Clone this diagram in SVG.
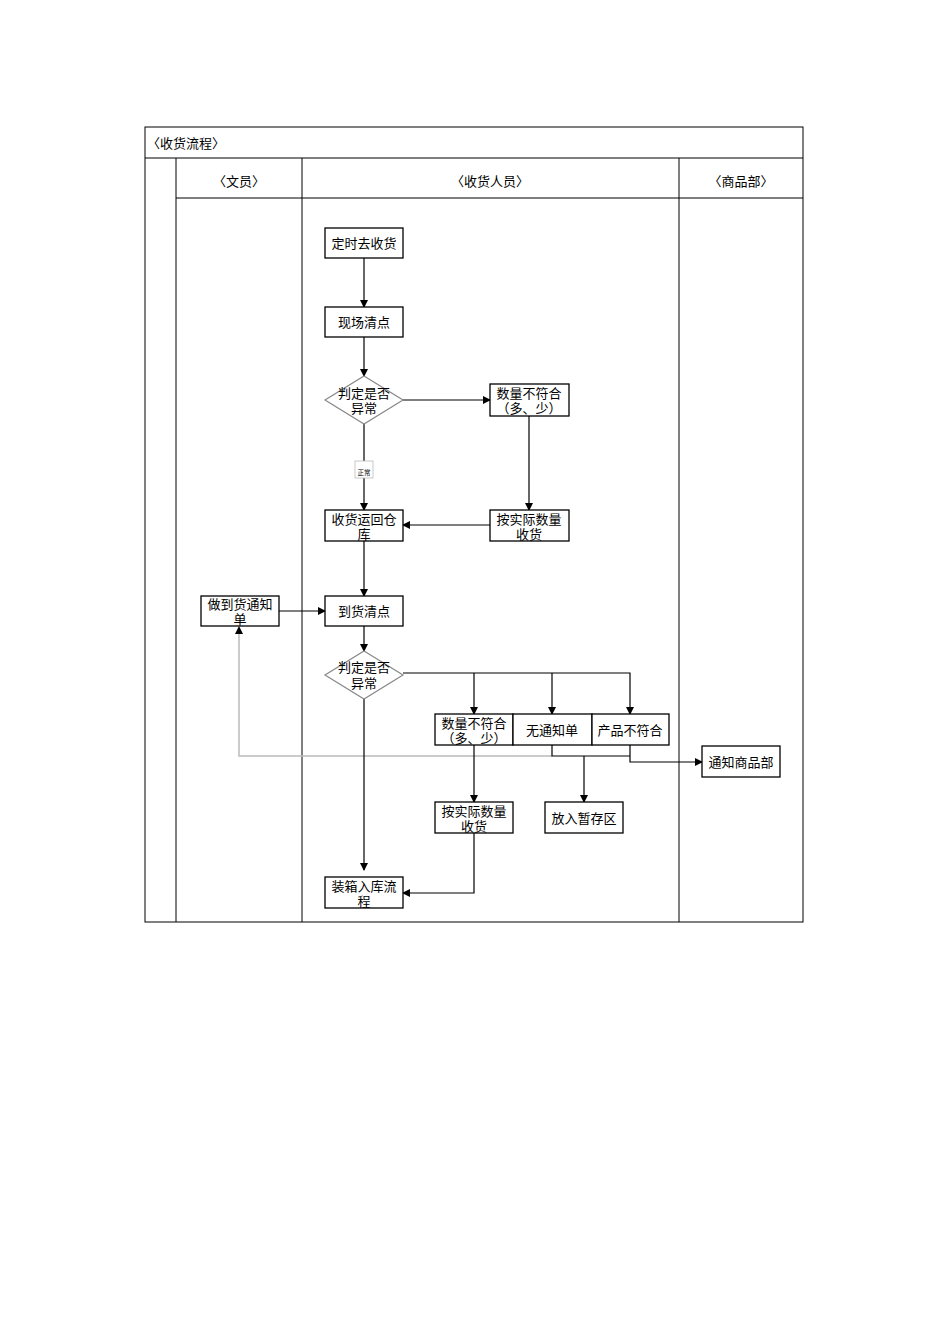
<svg xmlns="http://www.w3.org/2000/svg" width="950" height="1344" viewBox="0 0 950 1344">
<defs>
<marker id="a" markerWidth="8" markerHeight="8" refX="7" refY="4" orient="auto" markerUnits="userSpaceOnUse"><path d="M0,0 L8,4 L0,8 z" fill="#000"/></marker>
<style>
text{font-family:"Liberation Serif","Noto Sans CJK SC",serif;font-size:13px;text-anchor:middle;fill:#000}
.b{fill:#fff;stroke:#000;stroke-width:1.3}
.d{fill:#fff;stroke:#888;stroke-width:1.2}
.l{fill:none;stroke:#000;stroke-width:1.2}
.g{fill:none;stroke:#bbb;stroke-width:1.5}
.t{fill:none;stroke:#000;stroke-width:1}
</style>
</defs>
<rect width="950" height="1344" fill="#fff"/>
<g id="table">
<rect x="145" y="127" width="658" height="795" class="t"/>
<line x1="145" y1="158" x2="803" y2="158" class="t"/>
<line x1="176" y1="198" x2="803" y2="198" class="t"/>
<line x1="176" y1="158" x2="176" y2="922" class="t"/>
<line x1="302" y1="158" x2="302" y2="922" class="t"/>
<line x1="679" y1="158" x2="679" y2="922" class="t"/>
<text x="186" y="148" font-size="15">〈收货流程〉</text>
<text x="239" y="186">〈文员〉</text>
<text x="490" y="186">〈收货人员〉</text>
<text x="741" y="186">〈商品部〉</text>
</g>
<g id="connectors">
<polyline class="g" points="552,756 239,756 239,630"/>
<path d="M239,626 l-4,8 h8 z" fill="#000"/>
<line class="l" x1="364" y1="258" x2="364" y2="307" marker-end="url(#a)"/>
<line class="l" x1="364" y1="337" x2="364" y2="376" marker-end="url(#a)"/>
<line class="l" x1="403" y1="400" x2="490" y2="400" marker-end="url(#a)"/>
<line class="l" x1="364" y1="424" x2="364" y2="510" marker-end="url(#a)"/>
<line class="l" x1="529" y1="416" x2="529" y2="510" marker-end="url(#a)"/>
<line class="l" x1="490" y1="525" x2="403" y2="525" marker-end="url(#a)"/>
<line class="l" x1="364" y1="541" x2="364" y2="596" marker-end="url(#a)"/>
<line class="l" x1="279" y1="611" x2="325" y2="611" marker-end="url(#a)"/>
<line class="l" x1="364" y1="626" x2="364" y2="651" marker-end="url(#a)"/>
<polyline class="l" points="403,673 630,673 630,714" marker-end="url(#a)"/>
<line class="l" x1="474" y1="673" x2="474" y2="714" marker-end="url(#a)"/>
<line class="l" x1="552" y1="673" x2="552" y2="714" marker-end="url(#a)"/>
<line class="l" x1="364" y1="699" x2="364" y2="870" marker-end="url(#a)"/>
<line class="l" x1="474" y1="745" x2="474" y2="802" marker-end="url(#a)"/>
<polyline class="l" points="552,745 552,756 630,756"/>
<line class="l" x1="584" y1="756" x2="584" y2="802" marker-end="url(#a)"/>
<polyline class="l" points="630,745 630,762 702,762" marker-end="url(#a)"/>
<polyline class="l" points="474,833 474,893 403,893" marker-end="url(#a)"/>
<rect x="355" y="461" width="18" height="17" fill="#fff" stroke="#bbb" stroke-width="0.8"/>
<text transform="translate(364,475) scale(0.5)" x="0" y="0" font-size="14">正常</text>
</g>
<g id="n1"><rect class="b" x="325" y="228" width="78" height="30"/><text x="364" y="248">定时去收货</text></g>
<g id="n2"><rect class="b" x="325" y="307" width="78" height="30"/><text x="364" y="327">现场清点</text></g>
<g id="n3"><polygon class="d" points="364,376 403,400 364,424 325,400"/><text x="364" y="398">判定是否</text><text x="364" y="413">异常</text></g>
<g id="n4"><rect class="b" x="490" y="384" width="79" height="32"/><text x="529" y="398">数量不符合</text><text x="529" y="413">（多、少）</text></g>
<g id="n5"><rect class="b" x="490" y="510" width="79" height="31"/><text x="529" y="524">按实际数量</text><text x="529" y="539">收货</text></g>
<g id="n6"><rect class="b" x="325" y="510" width="78" height="31"/><text x="364" y="524">收货运回仓</text><text x="364" y="539">库</text></g>
<g id="n7"><rect class="b" x="201" y="596" width="78" height="30"/><text x="240" y="609">做到货通知</text><text x="240" y="624">单</text></g>
<g id="n8"><rect class="b" x="325" y="596" width="78" height="30"/><text x="364" y="616">到货清点</text></g>
<g id="n9"><polygon class="d" points="364,651 403,675 364,699 325,675"/><text x="364" y="672">判定是否</text><text x="364" y="688">异常</text></g>
<g id="n10"><rect class="b" x="435" y="714" width="78" height="31"/><text x="474" y="728">数量不符合</text><text x="474" y="743">（多、少）</text></g>
<g id="n11"><rect class="b" x="513" y="714" width="79" height="31"/><text x="552" y="735">无通知单</text></g>
<g id="n12"><rect class="b" x="592" y="714" width="77" height="31"/><text x="630" y="735">产品不符合</text></g>
<g id="n13"><rect class="b" x="702" y="746" width="78" height="31"/><text x="741" y="767">通知商品部</text></g>
<g id="n14"><rect class="b" x="435" y="802" width="78" height="31"/><text x="474" y="816">按实际数量</text><text x="474" y="831">收货</text></g>
<g id="n15"><rect class="b" x="545" y="802" width="78" height="31"/><text x="584" y="823">放入暂存区</text></g>
<g id="n16"><rect class="b" x="325" y="877" width="78" height="31"/><text x="364" y="891">装箱入库流</text><text x="364" y="906">程</text></g>
</svg>
